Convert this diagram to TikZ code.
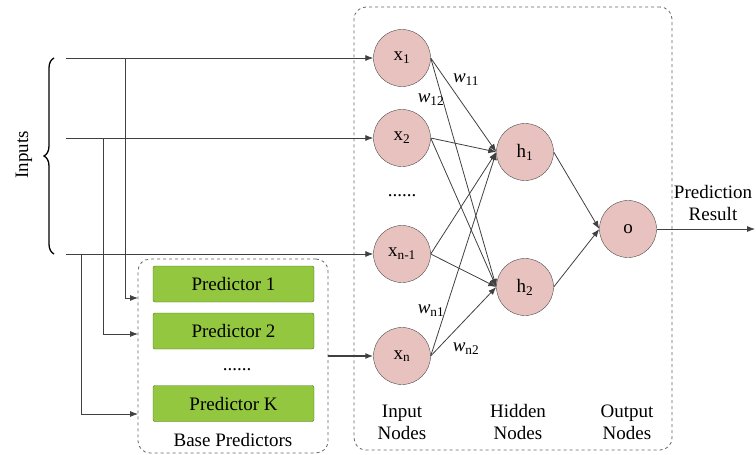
\documentclass[tikz,border=0pt]{standalone}
\usepackage{fontspec}
\setmainfont{Liberation Serif}
\usetikzlibrary{positioning,arrows.meta,decorations.pathreplacing}
\definecolor{neuronpink}{HTML}{E8C2BE}
\definecolor{predgreen}{HTML}{92C73F}

\begin{document}
\begin{tikzpicture}[x=1pt,y=-1pt,
    font=\fontsize{19}{22}\selectfont,
    neuron/.style={circle, draw=black!70, fill=neuronpink, minimum size=57pt, inner sep=0pt},
    predictor/.style={rectangle, rounded corners=2pt, draw=predgreen!55!black, fill=predgreen, minimum width=161pt, minimum height=36pt},
    group/.style={draw=black!60, dashed, line width=0.8pt, rounded corners=12pt},
    wire/.style={draw=black!75, line width=0.8pt, -{Latex[length=8pt,width=6pt]}},
    weight/.style={inner sep=1pt}]

    \useasboundingbox (0,0) rectangle (756,455);

    % dashed groups
    \node[group, minimum width=318pt, minimum height=443pt] (net) at (513,228.5) {};
    \node[group, minimum width=190pt, minimum height=194pt] (base) at (233,356) {};

    % network
    \node[neuron] (x1) at (402,58) {x\textsubscript{1}};
    \node[neuron] (x2) at (402,138) {x\textsubscript{2}};
    \node[anchor=base] (xdots) at (402,196) {......};
    \node[neuron] (x3) at (402,254) {x\textsubscript{n-1}};
    \node[neuron] (x4) at (402,356) {x\textsubscript{n}};
    \node[neuron] (h1) at (525,152) {h\textsubscript{1}};
    \node[neuron] (h2) at (525,287) {h\textsubscript{2}};
    \node[neuron] (o) at (628,229) {o};

    \foreach \i in {x1,x2,x3,x4}
        \foreach \j in {h1,h2}
            \draw[wire] (\i.east) -- (\j.west);
    \draw[wire] (h1.east) -- (o.west);
    \draw[wire] (h2.east) -- (o.west);

    \node[weight] (w11) at (466,80) {\textit{w}\textsubscript{11}};
    \node[weight] (w12) at (431,100) {\textit{w}\textsubscript{12}};
    \node[weight] (wn1) at (431,311) {\textit{w}\textsubscript{n1}};
    \node[weight] (wn2) at (466,349) {\textit{w}\textsubscript{n2}};

    \node[align=center] (lin) at (402,422) {Input\\Nodes};
    \node[align=center] (lhid) at (518,422) {Hidden\\Nodes};
    \node[align=center] (lout) at (627,422) {Output\\Nodes};

    \node[align=center] (res) at (713,203) {Prediction\\Result};
    \coordinate (out) at (755,229);
    \draw[wire] (o) -- (out);

    % base predictors
    \node[predictor] (p1) at (233.5,284) {Predictor 1};
    \node[predictor] (p2) at (233.5,331) {Predictor 2};
    \node[anchor=base] (pdots) at (237,370) {......};
    \node[predictor] (pk) at (233.5,403.5) {Predictor K};
    \node (blabel) at (233,440) {Base Predictors};
    \draw[wire, line width=1.4pt] (base.east) -- (x4);

    % inputs
    \coordinate (s1) at (66,58);
    \coordinate (s2) at (66,138);
    \coordinate (s3) at (66,254);
    \draw[wire] (s1) -- (x1);
    \draw[wire] (s2) -- (x2);
    \draw[wire] (s3) -- (x3);

    \coordinate (t1) at (125,58);
    \coordinate (t2) at (103,138);
    \coordinate (t3) at (81,254);
    \coordinate (e1) at (138,298);
    \coordinate (e2) at (138,334);
    \coordinate (e3) at (138,414);
    \draw[wire] (t1) |- (e1);
    \draw[wire] (t2) |- (e2);
    \draw[wire] (t3) |- (e3);

    \draw[line width=1.3pt, decorate, decoration={brace, amplitude=10pt}] (54,254) -- (54,58);
    \node[rotate=90] (inlabel) at (24,155) {Inputs};
\end{tikzpicture}
\end{document}
